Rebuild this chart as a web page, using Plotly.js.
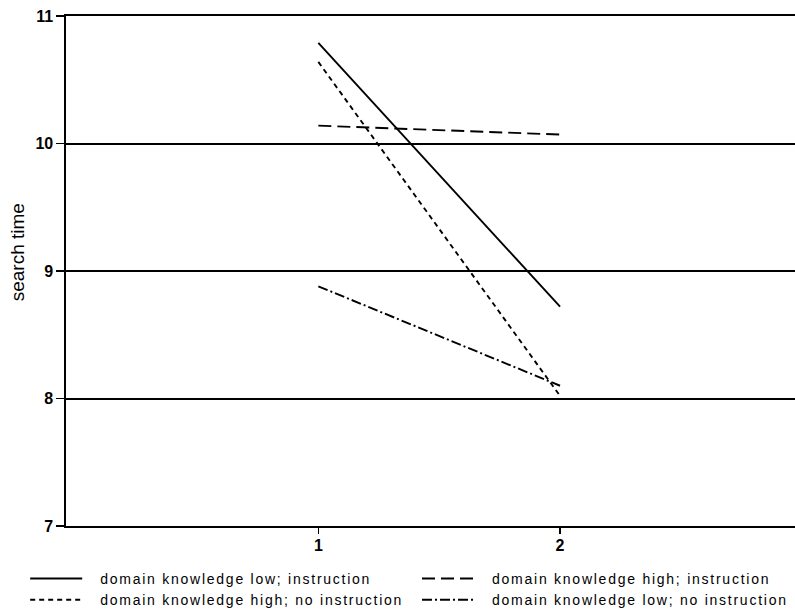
<!DOCTYPE html>
<html><head><meta charset="utf-8">
<script src="https://cdn.plot.ly/plotly-3.0.1.min.js"></script>
<style>
html,body{margin:0;padding:0;background:#fff}
#chart{width:795px;height:609px}
.infolayer g[class*="legend"] text{letter-spacing:1.75px}
</style></head><body>
<div id="chart"></div>
<script>
const xValues = [1, 2];
const xTickVals = [1, 2];
const xTickText = ["1", "2"];
const yTickVals = [7, 8, 9, 10, 11];
const yTickText = ["7", "8", "9", "10", "11"];
const seriesNames = [
  "domain knowledge low; instruction",
  "domain knowledge high; instruction",
  "domain knowledge high; no instruction",
  "domain knowledge low; no instruction"
];
const lowInstruction = [10.79, 8.72];
const highInstruction = [10.14, 10.07];
const highNoInstruction = [10.64, 8.02];
const lowNoInstruction = [8.88, 8.10];
const yTitle = "search time";

const FONT = "Arial, 'Liberation Sans', sans-serif";
const dashes = ["solid", "13px,6px", "5px,4px", "10px,3px,2px,3px"];
const values = [lowInstruction, highInstruction, highNoInstruction, lowNoInstruction];
const legendIds = ["legend", "legend2", "legend", "legend2"];

const traces = values.map((v, i) => ({
  type: "scatter", mode: "lines", x: xValues, y: v, name: seriesNames[i],
  legend: legendIds[i],
  line: {color: "#000", width: 1.9, dash: dashes[i]},
  hoverinfo: "skip"
}));

const legendCommon = {
  orientation: "v", yanchor: "top", xanchor: "left", y: -0.0725,
  font: {family: FONT, size: 14, color: "#000"},
  bgcolor: "rgba(0,0,0,0)", borderwidth: 0, itemwidth: 52,
  tracegroupgap: 0
};

const layout = {
  width: 795, height: 609,
  margin: {l: 66, r: 0, t: 16, b: 83, autoexpand: false},
  paper_bgcolor: "#fff", plot_bgcolor: "#fff",
  showlegend: true,
  xaxis: {
    range: [-0.044, 2.972], tickvals: xTickVals, ticktext: xTickText,
    ticks: "outside", ticklen: 6, tickwidth: 1.5, tickcolor: "#000",
    ticklabelstandoff: -2,
    showgrid: false, zeroline: false,
    showline: true, linecolor: "#000", linewidth: 2, mirror: true,
    tickfont: {family: FONT, size: 16, color: "#000", weight: "bold"}
  },
  yaxis: {
    range: [7, 11], tickvals: yTickVals, ticktext: yTickText,
    ticks: "outside", ticklen: 8, tickwidth: 1.5, tickcolor: "#000",
    showgrid: true, gridcolor: "#000", gridwidth: 2, zeroline: false,
    showline: true, linecolor: "#000", linewidth: 1.6,
    tickfont: {family: FONT, size: 16, color: "#000", weight: "bold"}
  },
  legend: Object.assign({}, legendCommon, {x: -0.056}),
  legend2: Object.assign({}, legendCommon, {x: 0.4815}),
  annotations: [{
    text: yTitle, xref: "paper", yref: "paper", x: -0.067, y: 0.537,
    xanchor: "center", yanchor: "middle", textangle: -90, showarrow: false,
    font: {family: FONT, size: 19, color: "#000"}
  }]
};

Plotly.newPlot("chart", traces, layout, {displayModeBar: false, staticPlot: true}).then(gd => {
  gd.querySelectorAll('.infolayer g[class*="legend"]').forEach(g => {
    g.querySelectorAll("[clip-path]").forEach(el => el.removeAttribute("clip-path"));
    if (g.hasAttribute("clip-path")) g.removeAttribute("clip-path");
  });
  gd.querySelectorAll('.infolayer g[class*="legend"] text').forEach(t => {
    const x0 = parseFloat(t.getAttribute("x")) || 0;
    t.setAttribute("x", x0 + 13);
  });
});
</script>
</body></html>
